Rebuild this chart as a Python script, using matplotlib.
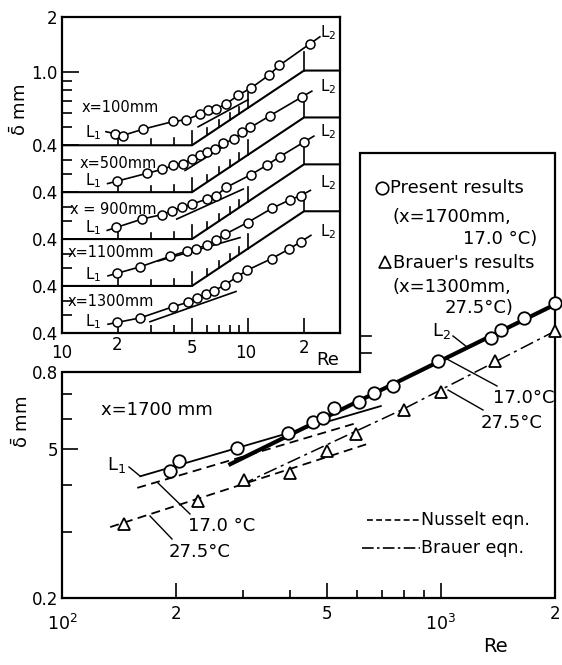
import numpy as np
import matplotlib
matplotlib.use("Agg")
import matplotlib.pyplot as plt
from matplotlib.lines import Line2D
from matplotlib.ticker import NullFormatter, FixedLocator

plt.rcParams['font.family'] = ['DejaVu Sans']
plt.rcParams['mathtext.fontset'] = 'dejavusans'

W, H = 562, 665

# ---------------- data: main plot (x = 1700 mm) ----------------
re_present = [193, 204, 289, 396, 461, 487, 521, 607, 665, 746, 982, 1356, 1441, 1658, 2000]
d_present = [0.436, 0.463, 0.502, 0.550, 0.589, 0.603, 0.642, 0.665, 0.703, 0.734,
             0.856, 0.986, 1.035, 1.114, 1.22]
re_brauer = [146, 228, 303, 399, 499, 596, 798, 1000, 1390, 2000]
d_brauer = [0.315, 0.363, 0.412, 0.431, 0.493, 0.547, 0.634, 0.708, 0.856, 1.028]

re_L1 = [161, 694]
d_L1 = [0.422, 0.649]
re_L2 = [275, 2000]
d_L2 = [0.452, 1.21]
re_nus17 = [158, 589]
d_nus17 = [0.393, 0.582]
re_nus27 = [134, 653]
d_nus27 = [0.309, 0.518]
re_bra27 = [296, 798, 2000]
d_bra27 = [0.400, 0.638, 1.028]

main_xtick_vals = [100, 200, 500, 1000, 2000]
main_xtick_labels = ['$10^2$', '2', '5', '$10^3$', '2']
main_ytick_vals = [0.2, 0.5, 0.8]
main_ytick_labels = ['0.2', '5', '0.8']

# ---------------- data: inset (x = 100 ... 1300 mm) ----------------
panel_labels = ["x=100mm", "x=500mm", "x = 900mm", "x=1100mm", "x=1300mm"]
inset_re = [
    [19.3, 21.2, 27.4, 39.6, 46.4, 55.2, 61.2, 67.0, 76.2, 88.7, 103.8, 129.7, 147.3, 215.4],
    [19.7, 28.5, 34.4, 39.7, 44.9, 49.8, 55.2, 60.4, 66.5, 73.4, 84.1, 92.5, 103.1, 131.3, 195],
    [19.6, 26.9, 34.5, 39.0, 44.2, 49.7, 60.0, 67.3, 76.2, 103.8, 126.5, 148.6, 200],
    [19.8, 26.4, 38.1, 47.0, 52.7, 60.0, 66.9, 75.2, 99.4, 134.6, 169.2, 191.6],
    [19.8, 26.4, 39.7, 47.8, 52.9, 59.5, 65.6, 75.2, 87.3, 99.0, 134, 167, 192.8],
]
inset_d = [
    [0.462, 0.452, 0.490, 0.539, 0.551, 0.590, 0.624, 0.630, 0.671, 0.751, 0.820, 0.965, 1.089, 1.429],
    [0.459, 0.506, 0.532, 0.559, 0.573, 0.603, 0.636, 0.658, 0.690, 0.740, 0.775, 0.851, 0.901, 1.044, 1.321],
    [0.463, 0.514, 0.544, 0.570, 0.595, 0.618, 0.661, 0.689, 0.764, 0.898, 1.012, 1.127, 1.351],
    [0.469, 0.509, 0.580, 0.620, 0.640, 0.667, 0.708, 0.765, 0.886, 1.060, 1.183, 1.241],
    [0.456, 0.483, 0.556, 0.588, 0.620, 0.648, 0.678, 0.730, 0.808, 0.878, 1.015, 1.148, 1.258],
]
tan_re = [[53.9, 100], [45.9, 72.5], [41.4, 94.3], [32.9, 90.6], [29.7, 86.2]]
tan_d = [[0.504, 0.708], [0.525, 0.701], [0.514, 0.749], [0.547, 0.734], [0.460, 0.672]]

# ---------------- figure ----------------
fig = plt.figure(figsize=(W / 100, H / 100), dpi=100)


def ftext(px, py, s, size=13, ha='center', va='center', **kw):
    fig.text(px / W, 1 - py / H, s, fontsize=size, ha=ha, va=va, **kw)


def fline(xs, ys, **kw):
    kw.setdefault('color', 'black')
    kw.setdefault('lw', 1.0)
    fig.add_artist(Line2D([x / W for x in xs], [1 - y / H for y in ys],
                          transform=fig.transFigure, **kw))


# ================= main axes =================
ax = fig.add_axes([62 / W, 1 - 598 / H, (555 - 62) / W, (598 - 153) / H])
ax.set_xscale('log')
ax.set_yscale('log')
YTOP = 3.064
ax.set_xlim(100, 2000)
ax.set_ylim(0.2, YTOP)
ax.patch.set_alpha(0)
for s in ax.spines.values():
    s.set_visible(False)

RE_STEP = 610.7
ax.plot([100, 100, RE_STEP, RE_STEP, 2000, 2000, 100],
        [0.2, 0.8, 0.8, YTOP, YTOP, 0.2, 0.2],
        color='black', lw=1.6, clip_on=False, solid_joinstyle='miter')
for v in (0.9, 1.0):
    ax.plot([RE_STEP, RE_STEP * 10 ** (11 / 378)], [v, v], color='black', lw=1.2)

ax.xaxis.set_major_locator(FixedLocator(main_xtick_vals))
ax.set_xticklabels(['' if '^' in s else s for s in main_xtick_labels])
ax.xaxis.set_minor_locator(FixedLocator([300, 400, 600, 700, 800, 900]))
ax.xaxis.set_minor_formatter(NullFormatter())
ax.yaxis.set_major_locator(FixedLocator(main_ytick_vals))
ax.set_yticklabels(main_ytick_labels)
ax.yaxis.set_minor_locator(FixedLocator([0.3, 0.4, 0.6, 0.7]))
ax.yaxis.set_minor_formatter(NullFormatter())
ax.tick_params(which='both', direction='in', top=False, right=False, width=1.2)
ax.tick_params(axis='x', which='major', length=11, labelsize=12, pad=5)
ax.tick_params(axis='x', which='minor', length=6)
ax.tick_params(axis='y', which='major', length=11.5, labelsize=12, pad=3)
ax.tick_params(axis='y', which='minor', length=7.5)
# power-of-ten labels sit lower, as in the reference
tr = ax.get_xaxis_transform()
for v, s in zip(main_xtick_vals, main_xtick_labels):
    if '^' in s:
        ax.text(v, -0.035, s, transform=tr, ha='center', va='top', fontsize=12.5)

# lines
ax.plot(re_nus17, d_nus17, color='black', lw=1.3, ls=(0, (5, 3)))
ax.plot(re_nus27, d_nus27, color='black', lw=1.3, ls=(0, (5, 3)))
ax.plot(re_bra27, d_bra27, color='black', lw=1.1, ls=(0, (9, 3, 2, 3)))
ax.plot(re_L1, d_L1, color='black', lw=1.3)
ax.plot(re_L2, d_L2, color='black', lw=3.0, solid_capstyle='butt')
ax.plot(re_present, d_present, ls='none', marker='o', ms=9, mfc='white', mec='black',
        mew=1.3, clip_on=False, zorder=5)
ax.plot(re_brauer, d_brauer, ls='none', marker='^', ms=9, mfc='white', mec='black',
        mew=1.3, clip_on=False, zorder=5)

# annotations main
ftext(157, 410, 'x=1700 mm', size=13)
ftext(117, 465, 'L$_1$', size=13)
fline([129, 140], [467, 476])
ftext(222, 526, '17.0 °C', size=13)
fline([190, 158], [514, 483])
ftext(200, 552, '27.5°C', size=13)
fline([172, 150], [539, 516])
ftext(441, 331, 'L$_2$', size=13)
fline([453, 467], [336, 347])
ftext(524, 398, '17.0°C', size=13)
fline([445, 497], [358, 386])
ftext(512, 423, '27.5°C', size=13)
fline([448, 483], [390, 410])

# legend box texts
fig.add_artist(Line2D([382 / W], [1 - 188 / H], marker='o', ms=9, mfc='white', mec='black',
                      mew=1.2, transform=fig.transFigure))
ftext(390, 188, 'Present results', size=13, ha='left')
ftext(393, 217, '(x=1700mm,', size=13, ha='left')
ftext(537, 239, '17.0 °C)', size=13, ha='right')
fig.add_artist(Line2D([385 / W], [1 - 262 / H], marker='^', ms=9, mfc='white', mec='black',
                      mew=1.2, transform=fig.transFigure))
ftext(393, 263, "Brauer's results", size=13, ha='left')
ftext(392, 287, '(x=1300mm,', size=13, ha='left')
ftext(513, 308, '27.5°C)', size=13, ha='right')
fline([367, 420], [520, 520], lw=1.2, ls=(0, (3.5, 2)))
ftext(421, 520, 'Nusselt eqn.', size=12.5, ha='left')
fline([362, 420], [548, 548], lw=1.2, ls=(0, (7, 2, 1.5, 2)))
ftext(421, 548, 'Brauer eqn.', size=12.5, ha='left')

ftext(495, 647, 'Re', size=14)
ftext(22, 422, r'$\bar{\mathrm{\delta}}$ mm', size=13, rotation=90)

# ================= inset =================
DEC_X = 186.0
DEC_Y = 183.5
XMAX = 10 ** (1 + 278 / DEC_X)
F = 10 ** (46.9 / DEC_Y)
S = 10 ** (74.7 / DEC_Y)
YBOT = 2 / 10 ** (316 / DEC_Y)

ai = fig.add_axes([62 / W, 1 - 333 / H, 278 / W, 316 / H])
ai.set_xscale('log')
ai.set_yscale('log')
ai.set_xlim(10, XMAX)
ai.set_ylim(YBOT, 2)
ai.patch.set_alpha(0)
for s in ai.spines.values():
    s.set_linewidth(1.6)

ai.xaxis.set_major_locator(FixedLocator([50, 100, 200]))
ai.set_xticklabels(['5', '', '2'])
ai.xaxis.set_minor_locator(FixedLocator([20, 30, 40, 60, 70, 80, 90]))
ai.xaxis.set_minor_formatter(NullFormatter())
ymaj = [0.4 / F ** k for k in range(5)] + [1.0, 2.0]
ai.yaxis.set_major_locator(FixedLocator(ymaj))
ai.set_yticklabels(['0.4'] * 5 + ['1.0', '2'])
ymin = [0.5, 0.6, 0.7, 0.8, 0.9] + [v / F ** k for k in range(1, 5) for v in (0.5, 0.6)]
ai.yaxis.set_minor_locator(FixedLocator(ymin))
ai.yaxis.set_minor_formatter(NullFormatter())
ai.tick_params(which='both', direction='in', top=False, right=False, width=1.2)
ai.tick_params(axis='x', which='major', length=11, labelsize=12, pad=4)
ai.tick_params(axis='x', which='minor', length=6)
ai.tick_params(axis='y', which='major', length=12, labelsize=12, pad=3)
ai.tick_params(axis='y', which='minor', length=7)

# inset x-labels "10"
ftext(62, 353, '10', size=12)
ftext(246, 353, '10', size=12)
ftext(117, 345, '2', size=12)
ftext(328, 360, 'Re', size=13)
ftext(20, 110, r'$\bar{\mathrm{\delta}}$ mm', size=13, rotation=90)

# bent separators (panel base axes) with ticks
sep_re = np.array([10, 50, 200, XMAX])
tick_re = [20, 30, 40, 50, 60, 70, 80, 90, 100, 200]
tick_len = [7, 6, 7, 14, 7, 7, 7, 7, 15, 19]
for k in range(4):
    base = 0.4 / F ** k
    sep_d = np.array([base, base, base * S, base * S])
    ai.plot(sep_re, sep_d, color='black', lw=1.5, clip_on=False)
    for r, L in zip(tick_re, tick_len):
        y0 = 10 ** np.interp(np.log10(r), np.log10(sep_re), np.log10(sep_d))
        ai.plot([r, r], [y0, y0 * 10 ** (L / DEC_Y)], color='black', lw=1.2)

# panels
l1_y = [133, 181, 228, 275, 322]
l2_y = [33, 87, 132, 183, 232]
lab_y = [108, 164, 210, 253, 302]
lab_x = [82, 80, 70, 68, 68]
for k in range(5):
    sc = F ** k
    r = np.array(inset_re[k], dtype=float)
    d = np.array(inset_d[k], dtype=float) / sc
    lr, ld = np.log10(r), np.log10(d)
    s0 = (ld[1] - ld[0]) / (lr[1] - lr[0])
    s1 = (ld[-1] - ld[-2]) / (lr[-1] - lr[-2])
    r_a = r[0] / 1.12
    d_a = d[0] * (1 / 1.12) ** s0
    r_b = r[-1] * 1.13
    d_b = d[-1] * 1.13 ** max(s1, 0.55)
    ai.plot(np.r_[r_a, r, r_b], np.r_[d_a, d, d_b], color='black', lw=1.2, clip_on=False)
    ai.plot(tan_re[k], np.array(tan_d[k]) / sc, color='black', lw=1.2)
    ai.plot(r, d, ls='none', marker='o', ms=6.5, mfc='white', mec='black', mew=1.1,
            clip_on=False, zorder=5)
    ftext(lab_x[k], lab_y[k], panel_labels[k], size=10.5, ha='left')
    ftext(93, l1_y[k], 'L$_1$', size=11)
    ftext(328, l2_y[k], 'L$_2$', size=11)

fig.savefig('out.png', dpi=100)
